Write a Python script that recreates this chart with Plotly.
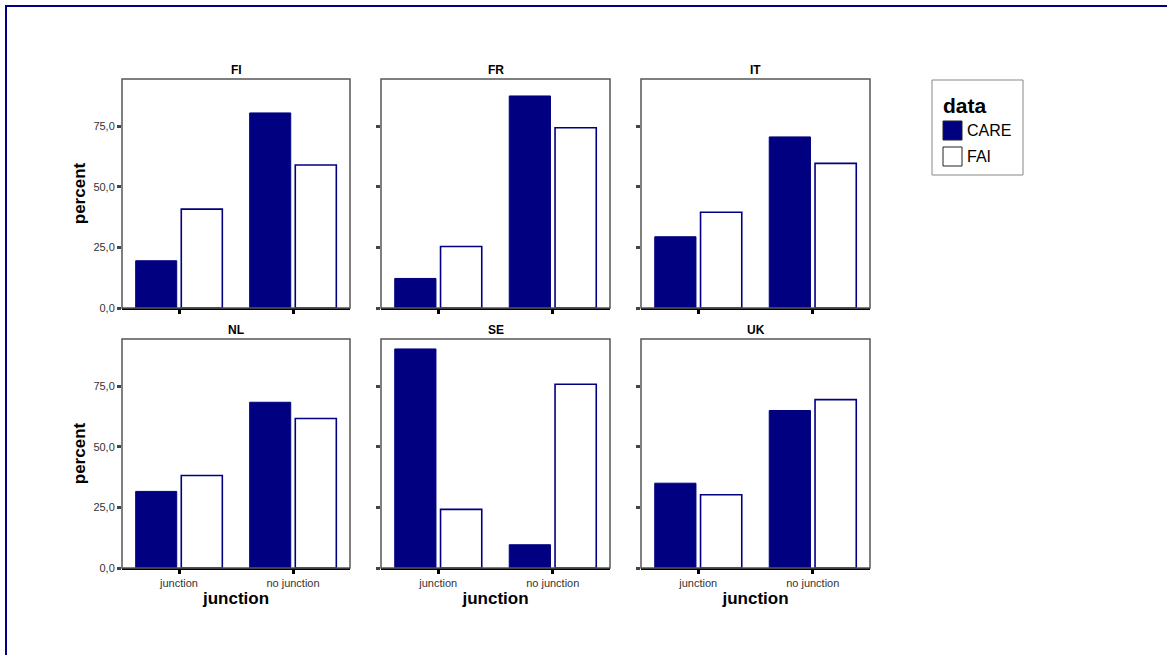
import plotly.graph_objects as go

# ---- data ----
countries = ["FI", "FR", "IT", "NL", "SE", "UK"]
categories = ["junction", "no junction"]
care_junction = [19.5, 12.2, 29.4, 31.6, 90.4, 35.0]
care_no_junction = [80.5, 87.5, 70.6, 68.4, 9.6, 65.0]
fai_junction = [40.8, 25.4, 39.5, 38.2, 24.2, 30.2]
fai_no_junction = [59.0, 74.4, 59.7, 61.7, 75.8, 69.5]
series_names = ["CARE", "FAI"]
y_tick_vals = [0, 25, 50, 75]
y_tick_labels = ["0,0", "25,0", "50,0", "75,0"]

W, H = 1167, 655
HY = 649  # effective vertical extent used for placement
NAVY = "#000080"
FONT = "Liberation Sans, Arial, sans-serif"

col_px = [(122, 350), (381, 610), (641, 870)]
row_px = [(79, 308), (339, 568)]


def px_x(a):
    return a / W


def px_y(b):
    return 1 - b / HY


fig = go.Figure()
layout = dict(
    width=W, height=H, autosize=False,
    margin=dict(l=0, r=0, t=0, b=0),
    paper_bgcolor="white", plot_bgcolor="white",
    barmode="group", bargap=0.2, bargroupgap=0.1,
    font=dict(family=FONT, color="#333333"),
    showlegend=False,
)
annotations = []
shapes = []

for i, c in enumerate(countries):
    r, k = divmod(i, 3)
    n = i + 1
    xa = "x" if n == 1 else f"x{n}"
    ya = "y" if n == 1 else f"y{n}"
    fig.add_trace(go.Bar(
        x=categories, y=[care_junction[i], care_no_junction[i]],
        name=series_names[0], marker=dict(color=NAVY, line=dict(color=NAVY, width=1)),
        xaxis=xa, yaxis=ya,
    ))
    fig.add_trace(go.Bar(
        x=categories, y=[fai_junction[i], fai_no_junction[i]],
        name=series_names[1], marker=dict(color="white", line=dict(color=NAVY, width=1.6)),
        xaxis=xa, yaxis=ya,
    ))
    x0, x1 = col_px[k]
    y0, y1 = row_px[r]
    xkey = "xaxis" if n == 1 else f"xaxis{n}"
    ykey = "yaxis" if n == 1 else f"yaxis{n}"
    layout[xkey] = dict(
        domain=[px_x(x0), px_x(x1)], anchor=ya, type="category",
        categoryorder="array", categoryarray=categories,
        range=[-0.5, 1.5], showgrid=False, zeroline=False,
        showline=True, linecolor="black", linewidth=1.5,
        ticks="outside", ticklen=4, tickwidth=3, tickcolor="black",
        showticklabels=(r == 1), tickfont=dict(size=11, color="#333333"),
        title=dict(text="<b>junction</b>", font=dict(size=17, color="black"), standoff=4) if r == 1 else None,
    )
    layout[ykey] = dict(
        domain=[px_y(y1), px_y(y0)], anchor=xa,
        range=[0, 94.5], showgrid=False, zeroline=False,
        showline=False,
        tickmode="array", tickvals=y_tick_vals, ticktext=y_tick_labels,
        ticks="outside", ticklen=4, tickwidth=3, tickcolor="#444444",
        showticklabels=(k == 0), tickfont=dict(size=11, color="#333333"),
        title=dict(text="<b>percent</b>", font=dict(size=17, color="black"), standoff=3) if k == 0 else None,
    )
    shapes.append(dict(
        type="rect", xref=f"{xa} domain", yref=f"{ya} domain",
        x0=0, x1=1, y0=0, y1=1, line=dict(color="#555555", width=1.5),
        fillcolor="rgba(0,0,0,0)", layer="above",
    ))
    annotations.append(dict(
        text=f"<b>{c}</b>", xref=f"{xa} domain", yref=f"{ya} domain",
        x=0.5, y=1, yanchor="bottom", xanchor="center", yshift=0,
        showarrow=False, font=dict(size=12, color="black"),
    ))

# outer frame
shapes.append(dict(
    type="rect", xref="paper", yref="paper",
    x0=px_x(6), x1=1.05, y0=-0.05, y1=px_y(6),
    line=dict(color=NAVY, width=2), fillcolor="rgba(0,0,0,0)", layer="below",
))

# legend (drawn as a key box)
shapes.append(dict(
    type="rect", xref="paper", yref="paper",
    x0=px_x(932), x1=px_x(1023), y0=px_y(175), y1=px_y(80),
    line=dict(color="#888888", width=1), fillcolor="white", layer="below",
))
annotations.append(dict(
    text="<b>data</b>", xref="paper", yref="paper", x=px_x(941), y=px_y(105),
    xanchor="left", yanchor="middle", showarrow=False,
    font=dict(size=21, color="black"),
))
legend_fills = [NAVY, "white"]
legend_rows = [(121, 140), (147, 166)]
for name, fill, (t, b) in zip(series_names, legend_fills, legend_rows):
    shapes.append(dict(
        type="rect", xref="paper", yref="paper",
        x0=px_x(943), x1=px_x(962), y0=px_y(b), y1=px_y(t),
        line=dict(color="#222222", width=1), fillcolor=fill, layer="above",
    ))
    annotations.append(dict(
        text=name, xref="paper", yref="paper", x=px_x(965), y=px_y((t + b) / 2),
        xanchor="left", yanchor="middle", showarrow=False,
        font=dict(size=16, color="black"),
    ))

layout["shapes"] = shapes
layout["annotations"] = annotations
fig.update_layout(**layout)
fig.write_html(
    "out.html",
    config={"displayModeBar": False, "responsive": False},
    default_width="1167px", default_height="655px",
    post_script="document.body.style.margin='0px';document.body.style.overflow='hidden';",
)
